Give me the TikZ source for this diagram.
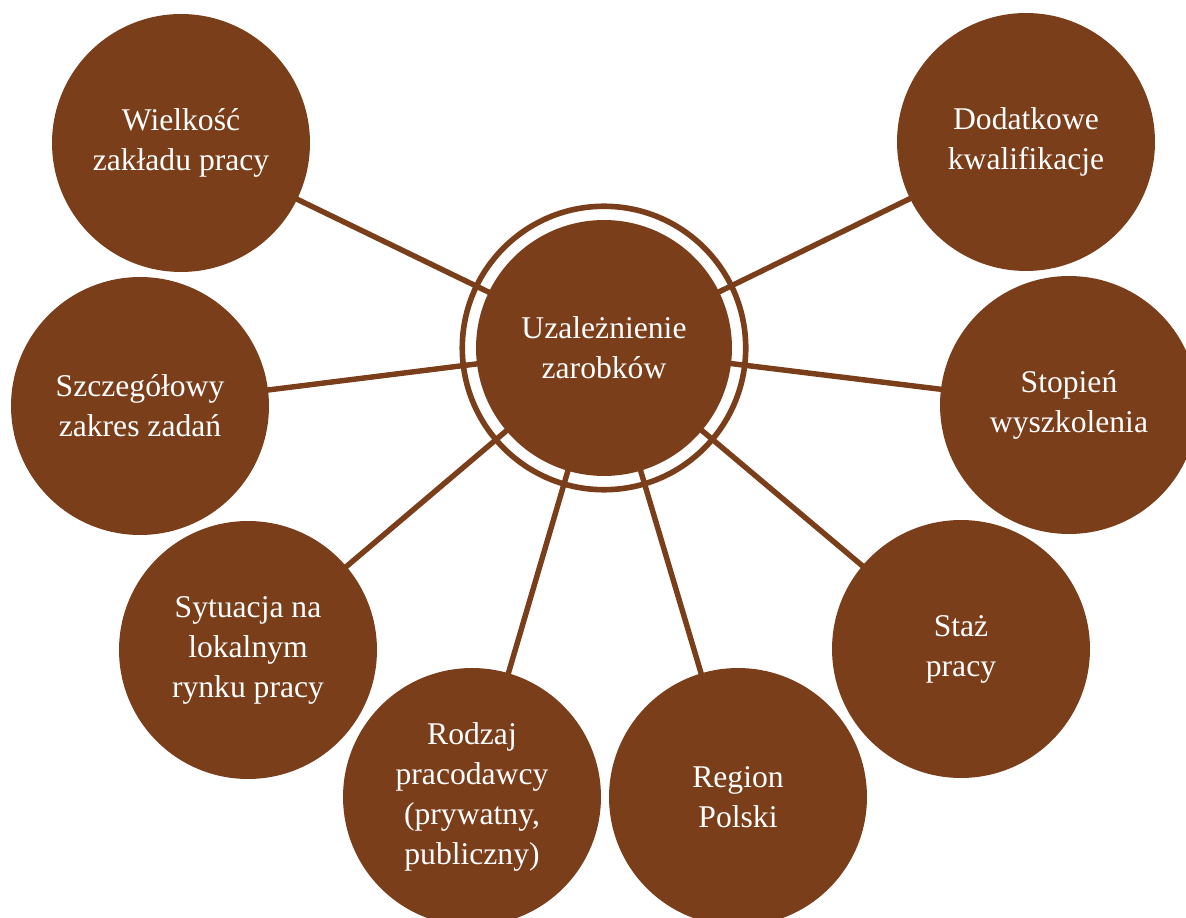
\documentclass[tikz,border=0pt]{standalone}
\usepackage{fontspec}
\setmainfont{Liberation Serif}
\definecolor{bark}{RGB}{123,62,27}
\tikzset{
    factor/.style={circle, fill=bark, text=white, minimum size=5.16cm, inner sep=0pt,
        align=center, font=\fontsize{18}{22.8}\selectfont},
    hub/.style={circle, fill=bark, text=white, minimum size=5.12cm, inner sep=0pt,
        align=center, font=\fontsize{18}{22.8}\selectfont},
    ring/.style={circle, draw=bark, line width=3.2pt, minimum size=5.67cm, inner sep=0pt},
    spoke/.style={draw=bark, line width=3.1pt, shorten <=-3pt, shorten >=-3pt}
}
\begin{document}
\begin{tikzpicture}[x=0.02cm, y=-0.02cm]
        \useasboundingbox (0,0) rectangle (1186,918);
        \clip (0,0) rectangle (1186,918);

        % Draw the central circle and the ring around it
        \node[hub] (hub) at (604,348) {Uzależnienie\\zarobków};
        \node[ring] (ring) at (hub) {};

        % Draw the factors round the centre
        \node[factor] (wielkosc) at (181,143) {Wielkość\\zakładu pracy};
        \node[factor] (dodatkowe) at (1026,142) {Dodatkowe\\kwalifikacje};
        \node[factor] (szczegolowy) at (140,406) {Szczegółowy\\zakres zadań};
        \node[factor] (stopien) at (1069,405) {Stopień\\wyszkolenia};
        \node[factor] (sytuacja) at (248,650) {Sytuacja na\\lokalnym\\rynku pracy};
        \node[factor] (staz) at (961,649) {Staż\\pracy};
        \node[factor] (rodzaj) at (472,797) {Rodzaj\\pracodawcy\\(prywatny,\\publiczny)};
        \node[factor] (region) at (738,797) {Region\\Polski};

        % Draw the spokes between the centre and the factors
        \draw[spoke] (hub) -- (wielkosc);
        \draw[spoke] (hub) -- (dodatkowe);
        \draw[spoke] (hub) -- (szczegolowy);
        \draw[spoke] (hub) -- (stopien);
        \draw[spoke] (hub) -- (sytuacja);
        \draw[spoke] (hub) -- (staz);
        \draw[spoke] (hub) -- (rodzaj);
        \draw[spoke] (hub) -- (region);

    \end{tikzpicture}
\end{document}
